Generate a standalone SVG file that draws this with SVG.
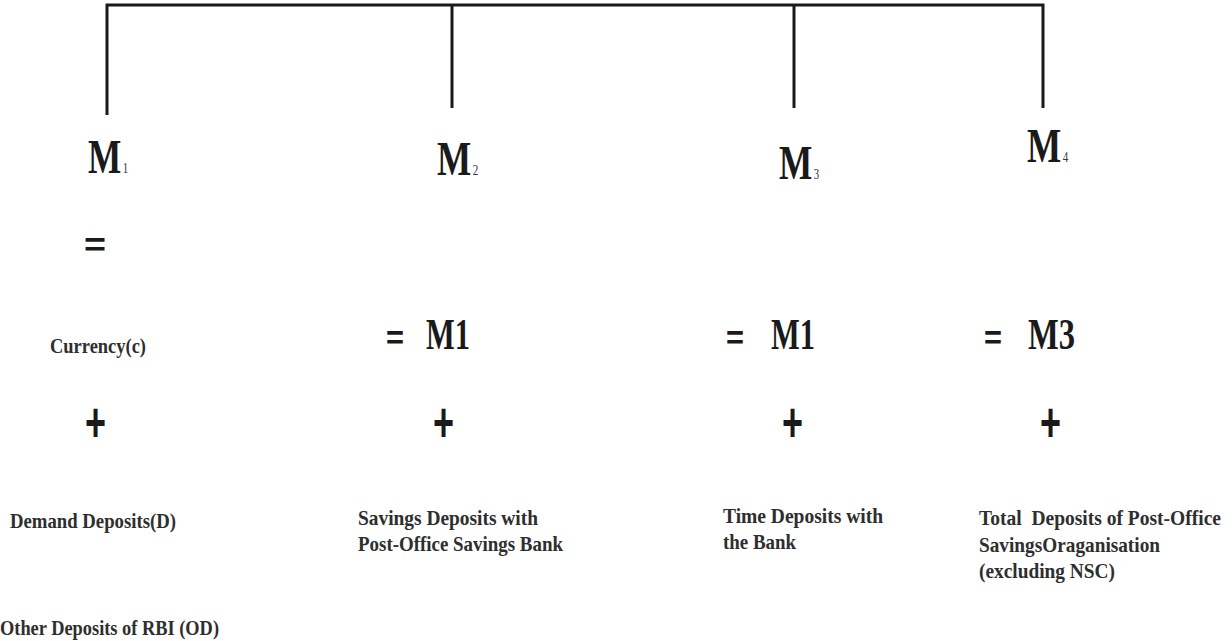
<svg xmlns="http://www.w3.org/2000/svg" width="1232" height="641" viewBox="0 0 1232 641">
<style>
.ln{stroke:#1a1a1a;stroke-width:3;fill:none}
.m{font-family:"Liberation Serif",serif;font-weight:bold;font-size:49px;fill:#1a1a1a}
.sub{font-weight:normal;font-size:15px;fill:#333}
.big{font-family:"Liberation Serif",serif;font-weight:bold;font-size:44px;fill:#1a1a1a}
.op{font-family:"Liberation Sans",sans-serif;font-weight:bold;font-size:34px;fill:#1a1a1a}
.pl{font-family:"Liberation Sans",sans-serif;font-weight:bold;font-size:56px;fill:#1a1a1a}
.lb{font-family:"Liberation Serif",serif;font-weight:bold;font-size:22px;fill:#2e2e2e;white-space:pre}
</style>
<rect width="1232" height="641" fill="#fff"/>
<g id="connectors">
<path class="ln" d="M107,115 V5 H1043 V108"/>
<path class="ln" d="M452,5 V108"/>
<path class="ln" d="M794,5 V108"/>
</g>
<g id="m1">
<text class="m" transform="translate(88,173) scale(0.72,1)">M<tspan class="sub" dx="2">1</tspan></text>
<text class="op" x="84" y="256" textLength="22" lengthAdjust="spacingAndGlyphs">=</text>
<text class="lb" x="50" y="353" textLength="96" lengthAdjust="spacingAndGlyphs">Currency(c)</text>
<text class="pl" x="85" y="441" textLength="21" lengthAdjust="spacingAndGlyphs">+</text>
<text class="lb" x="10" y="528" textLength="166" lengthAdjust="spacingAndGlyphs">Demand Deposits(D)</text>
<text class="lb" x="0" y="635" textLength="219" lengthAdjust="spacingAndGlyphs">Other Deposits of RBI (OD)</text>
</g>
<g id="m2">
<text class="m" transform="translate(437,175) scale(0.74,1)">M<tspan class="sub" dx="2">2</tspan></text>
<text class="op" x="386" y="349" textLength="18" lengthAdjust="spacingAndGlyphs">=</text>
<text class="big" x="426" y="349" textLength="44" lengthAdjust="spacingAndGlyphs">M1</text>
<text class="pl" x="433" y="441" textLength="21" lengthAdjust="spacingAndGlyphs">+</text>
<text class="lb" x="358" y="525" textLength="180" lengthAdjust="spacingAndGlyphs">Savings Deposits with</text>
<text class="lb" x="358" y="551" textLength="205" lengthAdjust="spacingAndGlyphs">Post-Office Savings Bank</text>
</g>
<g id="m3">
<text class="m" transform="translate(779,179) scale(0.72,1)">M<tspan class="sub" dx="2">3</tspan></text>
<text class="op" x="726" y="349" textLength="18" lengthAdjust="spacingAndGlyphs">=</text>
<text class="big" x="771" y="349" textLength="44" lengthAdjust="spacingAndGlyphs">M1</text>
<text class="pl" x="782" y="441" textLength="21" lengthAdjust="spacingAndGlyphs">+</text>
<text class="lb" x="723" y="523" textLength="160" lengthAdjust="spacingAndGlyphs">Time Deposits with</text>
<text class="lb" x="723" y="549" textLength="73" lengthAdjust="spacingAndGlyphs">the Bank</text>
</g>
<g id="m4">
<text class="m" transform="translate(1027,162) scale(0.74,1)">M<tspan class="sub" dx="2">4</tspan></text>
<text class="op" x="984" y="349" textLength="18" lengthAdjust="spacingAndGlyphs">=</text>
<text class="big" x="1028" y="349" textLength="47" lengthAdjust="spacingAndGlyphs">M3</text>
<text class="pl" x="1040" y="441" textLength="21" lengthAdjust="spacingAndGlyphs">+</text>
<text class="lb" transform="translate(979,525) scale(1,1.2)" style="font-size:18px" textLength="242" lengthAdjust="spacingAndGlyphs">Total  Deposits of Post-Office</text>
<text class="lb" x="979" y="552" textLength="181" lengthAdjust="spacingAndGlyphs">SavingsOraganisation</text>
<text class="lb" x="979" y="578" textLength="136" lengthAdjust="spacingAndGlyphs">(excluding NSC)</text>
</g>
</svg>
